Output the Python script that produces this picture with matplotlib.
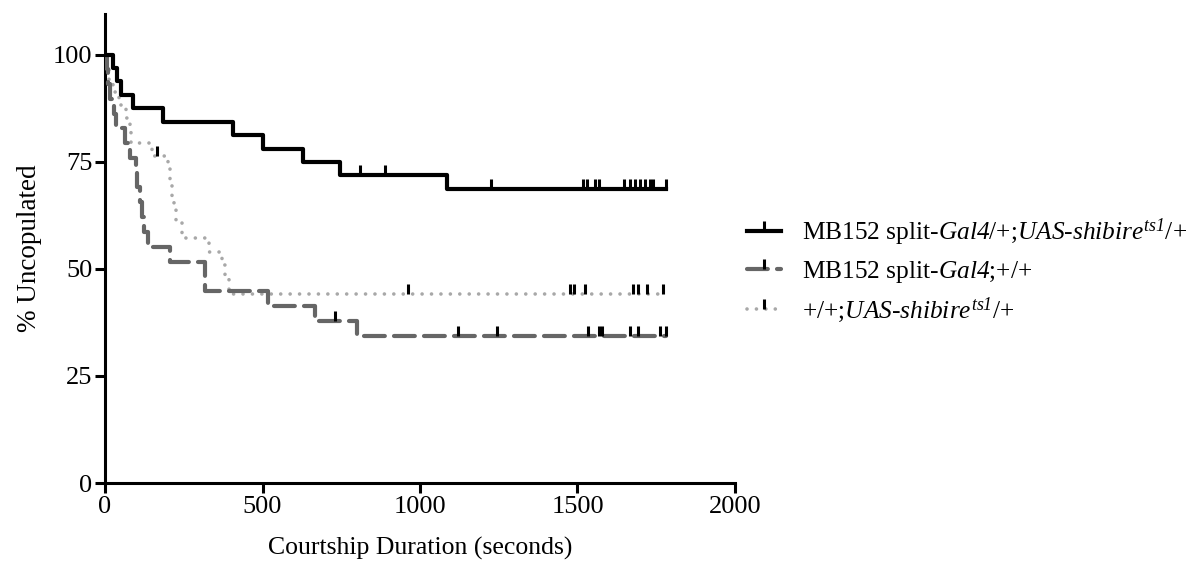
import numpy as np
import matplotlib
matplotlib.use("Agg")
import matplotlib.pyplot as plt
from matplotlib.path import Path
from matplotlib.lines import Line2D

plt.rcParams["font.family"] = ["Liberation Serif", "DejaVu Serif"]
plt.rcParams["mathtext.fontset"] = "custom"
# every math part of the labels is italic (digits included)
plt.rcParams["mathtext.rm"] = "Liberation Serif:italic"
plt.rcParams["mathtext.it"] = "Liberation Serif:italic"

# Kaplan-Meier steps (time in s, % uncopulated after the step)
exp_times = [0, 24, 37, 50, 90, 183, 407, 503, 630, 746, 1085]
exp_vals = [100, 96.9, 93.75, 90.6, 87.5, 84.4, 81.25, 78.1, 75.0, 71.9, 68.75]
exp_censor = [810, 889, 1224, 1516, 1529, 1556, 1569, 1649, 1667, 1683, 1698,
              1714, 1730, 1741, 1780]

gal_times = [0, 5, 10, 16, 30, 34, 63, 80, 98, 102, 111, 116, 125, 135, 206,
             317, 518, 667, 799]
gal_vals = [100, 96.6, 93.1, 89.7, 86.2, 82.8, 79.3, 75.9, 72.4, 69.0, 65.5,
            62.1, 58.6, 55.2, 51.7, 44.8, 41.4, 37.9, 34.3]
gal_censor = [730, 1122, 1243, 1534, 1568, 1578, 1667, 1692, 1762, 1780]

uas_times = [0, 6, 12, 25, 45, 65, 78, 83, 150, 200, 207, 213, 219, 226, 245,
             330, 372, 382, 392]
uas_vals = [100, 97.1, 94.1, 91.2, 88.2, 85.3, 82.4, 79.4, 76.4, 73.3, 70.2,
            67.1, 64.0, 60.9, 57.2, 54.0, 50.8, 47.6, 44.1]
uas_censor = [164, 963, 1476, 1490, 1524, 1676, 1692, 1720, 1773]

end_time = 1780

labels = [
    r"MB152 split-$Gal4$/+;$UAS$-$shibire^{ts1}$/+",
    r"MB152 split-$Gal4$;+/+",
    r"+/+;$UAS$-$shibire^{ts1}$/+",
]

# upward tick used for censored observations
tick = Path([(0, 0), (0, 1)], [Path.MOVETO, Path.LINETO])

fig = plt.figure(figsize=(11.99, 5.70), dpi=100)
ax = fig.add_axes([0.0876, 0.1526, 0.5254, 0.8228])

styles = [
    dict(color="black", lw=3.0, ls="-"),
    dict(color="#666666", lw=3.0, ls=(0, (5, 2.2)), dash_capstyle="round"),
    dict(color="#a8a8a8", lw=2.6, ls=(0, (0.01, 2.6)), dash_capstyle="round"),
]
series = [
    (exp_times, exp_vals, exp_censor),
    (gal_times, gal_vals, gal_censor),
    (uas_times, uas_vals, uas_censor),
]

for idx in [2, 1, 0]:
    t, v, c = series[idx]
    st = styles[idx]
    tt = list(t) + [end_time]
    vv = list(v) + [v[-1]]
    ax.step(tt, vv, where="post", zorder=3 + (2 - idx), **st)
    cv = [v[np.searchsorted(t, ci, side="right") - 1] for ci in c]
    ax.plot(c, cv, ls="none", marker=tick, ms=15, mew=2.2, mec="black",
            zorder=6)

handles = []
for idx in range(3):
    st = styles[idx]
    h = Line2D([0, 0.5, 1], [0, 0, 0], marker=tick, ms=15, mew=2.2,
               mec="black", markevery=[1], **st)
    handles.append(h)

ax.set_xlim(0, 2000)
ax.set_ylim(0, 109.5)
ax.set_xticks([0, 500, 1000, 1500, 2000])
ax.set_yticks([0, 25, 50, 75, 100])
for s in ["top", "right"]:
    ax.spines[s].set_visible(False)
for s in ["left", "bottom"]:
    ax.spines[s].set_linewidth(2.2)
ax.tick_params(width=2.2, length=7, labelsize=19, pad=2)
ax.set_xlabel("Courtship Duration (seconds)", fontsize=18.5, labelpad=14)
ax.set_ylabel("% Uncopulated", fontsize=19.5, labelpad=8)

fig.legend(handles, labels, loc="center left", bbox_to_anchor=(0.604, 0.525),
           frameon=False, fontsize=18.3, handlelength=1.35, handletextpad=0.8,
           labelspacing=0.42)

fig.savefig("out.png", dpi=100)
